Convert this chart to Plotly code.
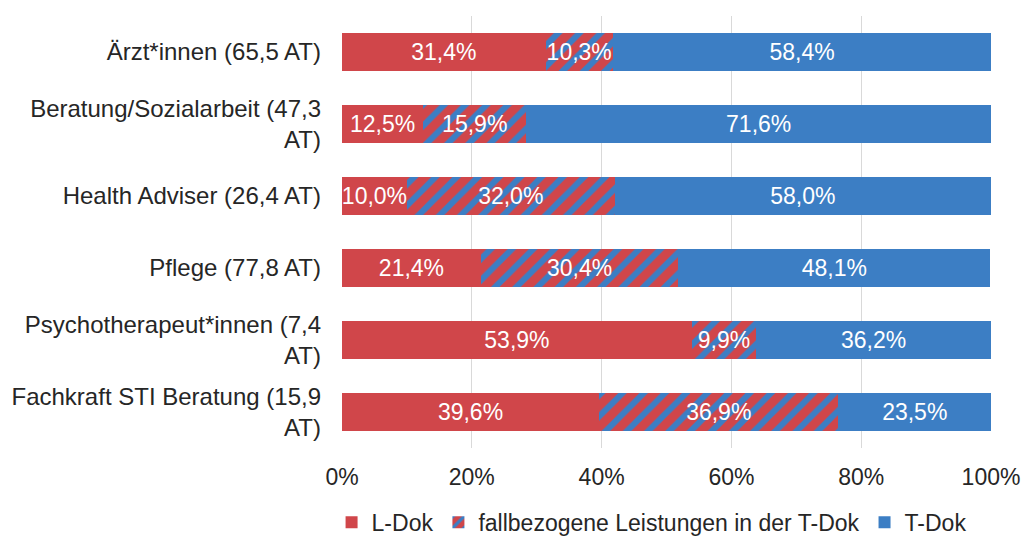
import plotly.graph_objects as go

categories = [
    "Ärzt*innen (65,5 AT)",
    "Beratung/Sozialarbeit (47,3<br>AT)",
    "Health Adviser (26,4 AT)",
    "Pflege (77,8 AT)",
    "Psychotherapeut*innen (7,4<br>AT)",
    "Fachkraft STI Beratung (15,9<br>AT)",
]
l_dok = [31.4, 12.5, 10.0, 21.4, 53.9, 39.6]
fallbezogen = [10.3, 15.9, 32.0, 30.4, 9.9, 36.9]
t_dok = [58.4, 71.6, 58.0, 48.1, 36.2, 23.5]
series_names = ["L-Dok", "fallbezogene Leistungen in der T-Dok", "T-Dok"]
tick_vals = [0, 20, 40, 60, 80, 100]
tick_text = ["0%", "20%", "40%", "60%", "80%", "100%"]

RED = "#D0464A"
BLUE = "#3C7EC4"
FONT = "Liberation Sans, Arial, sans-serif"
FS = 23
FS_CAT = 24
TXT = "#262626"


def fmt(v):
    return f"{v:.1f}".replace(".", ",") + "%"


fig = go.Figure()
fig.add_trace(go.Bar(
    y=categories, x=l_dok, name=series_names[0], orientation="h",
    marker=dict(color=RED, line=dict(width=0)),
    text=[fmt(v) for v in l_dok],
))
fig.add_trace(go.Bar(
    y=categories, x=fallbezogen, name=series_names[1], orientation="h",
    marker=dict(color=RED, line=dict(width=0),
                pattern=dict(shape="/", fgcolor=BLUE, fgopacity=1,
                             fillmode="overlay", size=15, solidity=0.4)),
    text=[fmt(v) for v in fallbezogen],
))
fig.add_trace(go.Bar(
    y=categories, x=t_dok, name=series_names[2], orientation="h",
    marker=dict(color=BLUE, line=dict(width=0)),
    text=[fmt(v) for v in t_dok],
))
fig.update_traces(textposition="inside", insidetextanchor="middle",
                  textangle=0, constraintext="none",
                  textfont=dict(color="white", size=FS, family=FONT))

fig.update_layout(
    barmode="stack",
    bargap=0.47,
    width=1023, height=537,
    margin=dict(l=342, r=32, t=16, b=89, pad=0, autoexpand=False),
    paper_bgcolor="white", plot_bgcolor="white",
    font=dict(family=FONT, size=FS, color=TXT),
    xaxis=dict(range=[0, 100], tickvals=tick_vals, ticktext=tick_text,
               showgrid=True, gridcolor="#d9d9d9", gridwidth=1,
               zeroline=False, showline=False, ticks="", automargin=False,
               ticklabelstandoff=13,
               tickfont=dict(size=FS, color=TXT)),
    yaxis=dict(autorange="reversed", showgrid=False, zeroline=False,
               showline=False, ticks="", ticklabelstandoff=20, automargin=False,
               tickfont=dict(size=FS_CAT, color=TXT)),
    legend=dict(orientation="h", x=0.477, xanchor="center", y=-0.122,
                yanchor="top", font=dict(size=FS, color=TXT),
                traceorder="normal", itemwidth=30),
    showlegend=True,
)

fig.write_html(
    "out.html",
    config={"displayModeBar": False},
    post_script="document.body.style.margin='0';document.body.style.overflow='hidden';",
)
